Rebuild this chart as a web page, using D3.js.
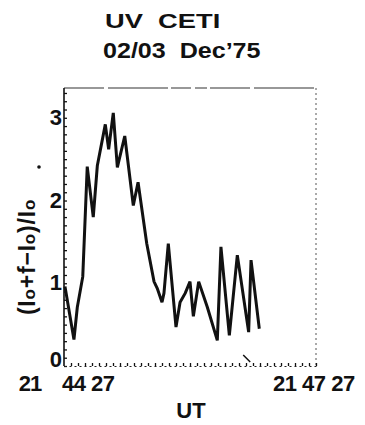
<!DOCTYPE html>
<html><head><meta charset="utf-8">
<script src="https://cdn.jsdelivr.net/npm/d3@7"></script>
<style>
body{margin:0;background:#fff;}
text{font-family:"Liberation Sans",Arial,sans-serif;font-weight:bold;fill:#111;}
</style></head>
<body><svg id="c" width="365" height="425"></svg>
<script>
// Data: seconds after 21:44:27 UT and (I0+f-I0)/I0
const timeSec = [0.7,7.1,9.5,13.4,16.6,20.9,23.8,29.5,31.9,35.2,38.1,43.4,49.5,52.9,59.1,64.3,66.6,70,71.4,74.5,80,82.9,86.6,90,92.4,96.2,102.4,109.5,112.1,118.1,123.8,131.9,133.6,139.5];
const ratio   = [0.96,0.32,0.71,1.08,2.41,1.80,2.42,2.92,2.62,3.06,2.40,2.78,1.94,2.22,1.48,1.02,0.94,0.77,0.88,1.48,0.47,0.77,0.88,1.02,0.60,1.02,0.71,0.31,1.44,0.37,1.34,0.41,1.28,0.45];
const yTickLabels = [0,1,2,3];
const xLeftLabel = ["21","44 27"];
const xRightLabel = "21 47 27";
const titleLines = ["UV  CETI","02/03  Dec\u201975"];

const svg = d3.select("#c");
const L=64, R=316, T=88, B=366;
const x = d3.scaleLinear().domain([0,180]).range([L,R]);
const y = d3.scaleLinear().domain([0,3.36]).range([B,T]);

// titles
svg.append("text").attr("transform","translate(105,28) scale(1.3,1)").attr("font-size",21).attr("xml:space","preserve").text(titleLines[0]);
svg.append("text").attr("transform","translate(103,58) scale(1.14,1)").attr("font-size",22).attr("xml:space","preserve").text(titleLines[1]);

// frame top & right (faint, broken)
svg.append("line").attr("x1",L).attr("x2",R).attr("y1",T).attr("y2",T)
  .attr("stroke","#333").attr("stroke-width",1.2).attr("stroke-dasharray","40,4,60,3,20,4,12,3");
svg.append("line").attr("x1",R).attr("x2",R).attr("y1",T).attr("y2",B)
  .attr("stroke","#555").attr("stroke-width",1).attr("stroke-dasharray","2,3");

// left axis (minor ticks inward)
const yAx = d3.axisLeft(y).tickValues(d3.range(0,3.31,0.1)).tickSizeInner(-3).tickSizeOuter(0).tickFormat("");
const gy = svg.append("g").attr("transform",`translate(${L},0)`).call(yAx);
gy.select(".domain").attr("stroke","#111").attr("stroke-width",1.6).attr("d",`M0,${B}V${T}`);
gy.selectAll(".tick line").attr("stroke","#111").attr("stroke-width",1.3);
// y major labels
svg.selectAll(".ylab").data(yTickLabels).join("text").attr("class","ylab")
  .attr("x",L-2).attr("y",d=>y(d)+(d===0?1:7)).attr("text-anchor","end").attr("font-size",22).text(d=>d);

// bottom axis (dotted, ticks upward)
const xAx = d3.axisBottom(x).tickValues(d3.range(5,181,5)).tickSizeInner(-3).tickSizeOuter(0).tickFormat("");
const gx = svg.append("g").attr("transform",`translate(0,${B})`).call(xAx);
gx.select(".domain").attr("stroke","#222").attr("stroke-width",1.2).attr("stroke-dasharray","2,3");
gx.selectAll(".tick line").attr("stroke","#111").attr("stroke-width",1.3);
svg.append("line").attr("x1",x(128)).attr("y1",B-11).attr("x2",x(133)).attr("y2",B-4).attr("stroke","#111").attr("stroke-width",1.5);

// x labels
svg.append("text").attr("x",30).attr("y",391).attr("text-anchor","middle").attr("font-size",22).attr("letter-spacing",-1).text(xLeftLabel[0]);
svg.append("text").attr("x",62).attr("y",391).attr("font-size",22).attr("letter-spacing",-0.5).attr("xml:space","preserve").text(xLeftLabel[1]);
svg.append("text").attr("x",273).attr("y",391).attr("font-size",22).attr("letter-spacing",-0.5).attr("xml:space","preserve").text(xRightLabel);
svg.append("text").attr("x",191).attr("y",418).attr("text-anchor","middle").attr("font-size",22).text("UT");

// y label
const yl = svg.append("text").attr("transform","translate(35,257) rotate(-90)").attr("text-anchor","middle").attr("font-size",23).attr("letter-spacing",0.8);
yl.append("tspan").text("(I");
yl.append("tspan").attr("font-size",17).text("o");
yl.append("tspan").text("+f\u2212I");
yl.append("tspan").attr("font-size",17).text("o");
yl.append("tspan").text(")/I");
yl.append("tspan").attr("font-size",17).text("o");
svg.append("circle").attr("cx",39).attr("cy",167).attr("r",1.8).attr("fill","#111");

// data line
const line = d3.line().x((d,i)=>x(timeSec[i])).y(d=>y(d)).curve(d3.curveLinear);
svg.append("path").attr("d",line(ratio)).attr("fill","none").attr("stroke","#111")
  .attr("stroke-width",3).attr("stroke-linejoin","miter").attr("stroke-miterlimit",3);
</script></body></html>
